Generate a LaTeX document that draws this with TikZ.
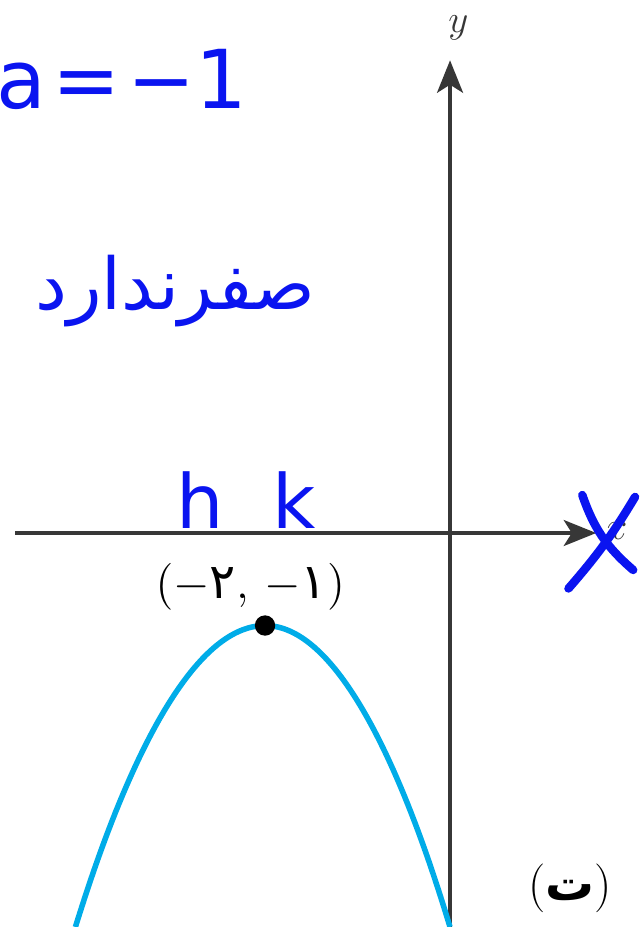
\documentclass[tikz,border=0pt]{standalone}
\usepackage{fontspec}
\newfontfamily\arabicfont[Script=Arabic]{DejaVu Sans}
\newfontfamily\penfont{DejaVu Sans}
\TeXXeTstate=1
\usetikzlibrary{arrows.meta}

\definecolor{penblue}{RGB}{10,20,240}
\definecolor{curvecyan}{RGB}{0,172,232}
\definecolor{axisgray}{RGB}{55,55,55}

\tikzset{
    axisline/.style={line width=1pt, axisgray, -{Stealth[length=10pt,width=8pt,inset=2.5pt]}},
    pen/.style={text=penblue, font=\penfont\fontsize{23}{27}\selectfont},
    penstroke/.style={penblue, line width=2.6pt, line cap=round},
}

\begin{document}
\begin{tikzpicture}
    \useasboundingbox (-4.865,-4.259) rectangle (2.065,5.762);
    % axes
    \coordinate (xs) at (-4.7,0);
    \coordinate (xe) at (1.58,0);
    \coordinate (ys) at (0,-4.259);
    \coordinate (ye) at (0,5.11);
    \draw[axisline] (xs) -- (xe);
    \draw[axisline] (ys) -- (ye);
    \node[text=axisgray] (ylab) at (0.09,5.46) {\large$y$};
    \node[text=axisgray] (xlab) at (1.80,0.02) {\large$x$};
    % parabola
    \coordinate (pl) at (-4.05,-4.259);
    \coordinate (vtx) at (-2,-1);
    \coordinate (pr) at (0,-4.259);
    \draw[curvecyan, line width=1.7pt] (pl) parabola bend (vtx) (pr);
    \node[circle, fill=black, inner sep=0pt, minimum size=0.22cm] (dot) at (vtx) {};
    \node (vlab) at (-2.16,-0.58) {\fontsize{15}{17}\selectfont$(-${\arabicfont ۲}$,\,-${\arabicfont ۱}$)$};
    \node (part) at (1.30,-3.84) {\fontsize{15}{17}\selectfont({\arabicfont\bfseries\beginR ت\endR})};
    % pen notes
    \node[pen, font=\penfont\fontsize{25}{29}\selectfont] (aeq) at (-3.55,4.9) {a\kern2pt=\kern2pt−1};
    \node[pen, font=\arabicfont\fontsize{22}{26}\selectfont] (nozero) at (-2.97,2.62) {\beginR صفرندارد\endR};
    \node[pen] (hlab) at (-2.7,0.36) {h};
    \node[pen] (klab) at (-1.68,0.36) {k};
    \coordinate (c1) at (1.43,0.41);
    \coordinate (c2) at (1.98,-0.40);
    \coordinate (c3) at (2.00,0.39);
    \coordinate (c4) at (1.28,-0.60);
    \draw[penstroke] (c1) to[bend right=15] (c2);
    \draw[penstroke] (c3) to[bend left=5] (c4);
\end{tikzpicture}
\end{document}
